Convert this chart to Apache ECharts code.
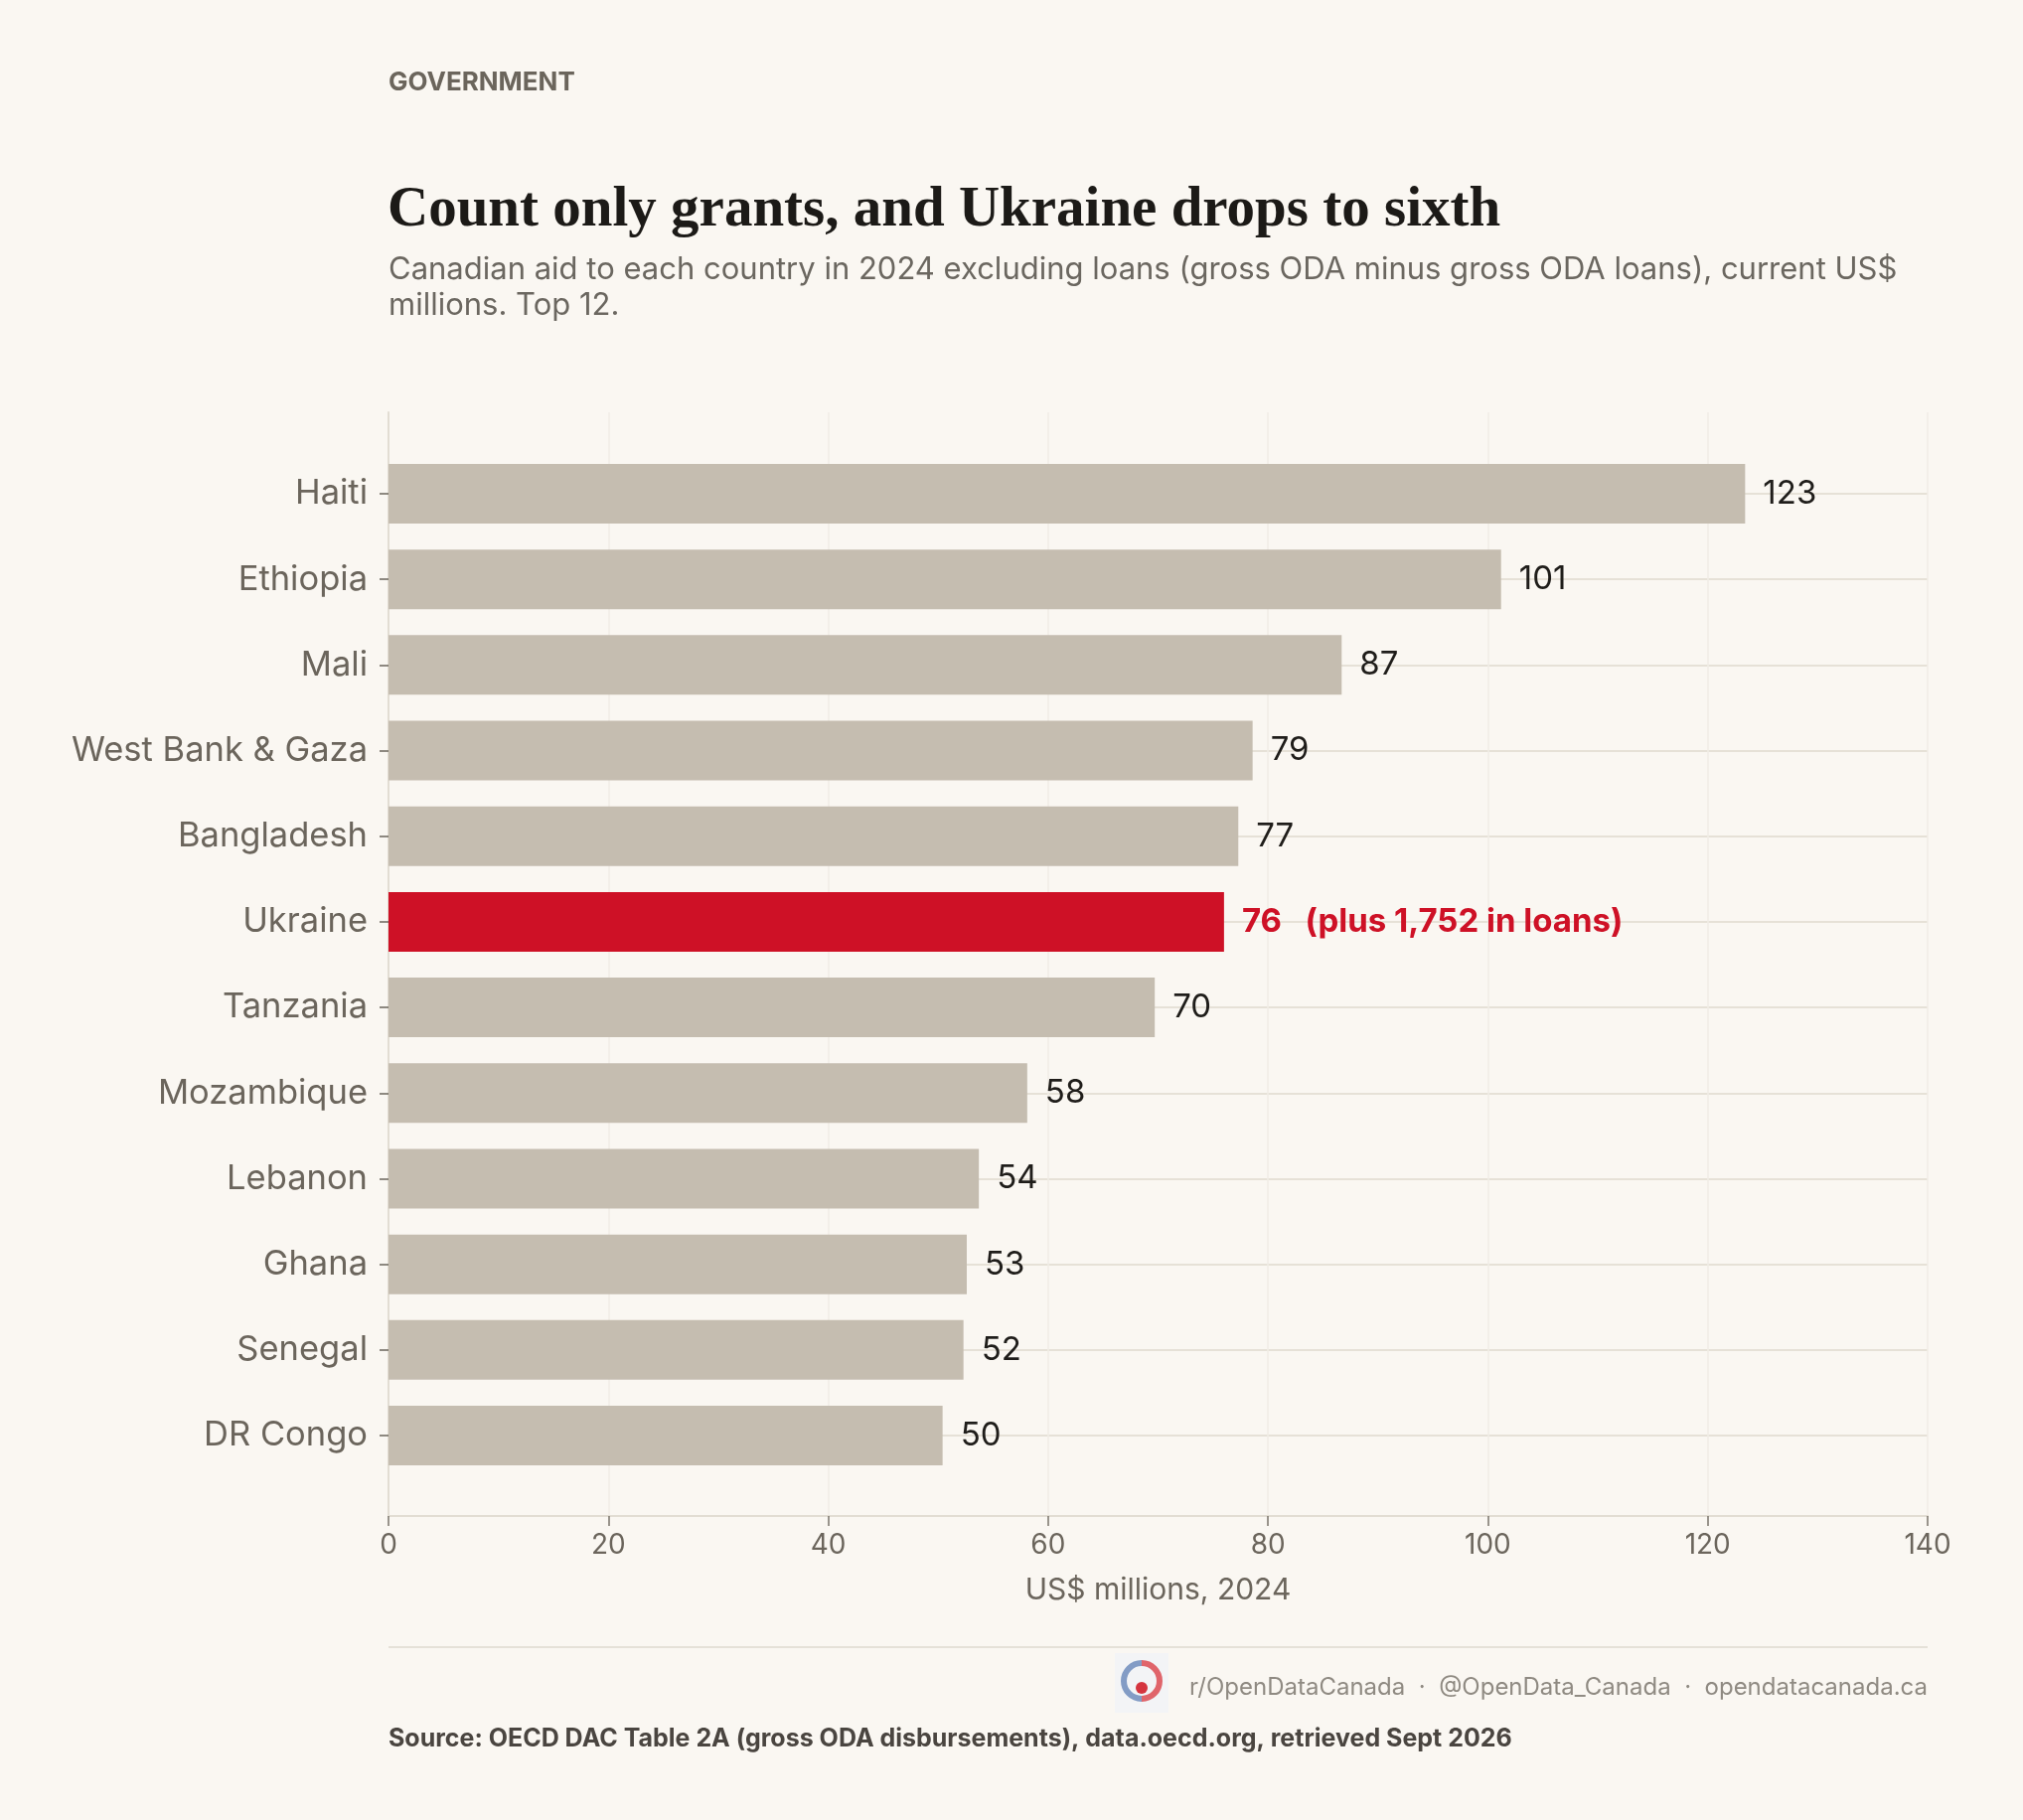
<!DOCTYPE html>
<html lang="en">
<head>
    <meta charset="UTF-8">
    <title>Canadian grant aid 2024</title>
    <script src="https://cdn.jsdelivr.net/npm/echarts@6/dist/echarts.min.js"></script>
    <style>
        html, body { margin: 0; padding: 0; background: #faf7f2; }
        #main { width: 2036px; height: 1832px; }
    </style>
</head>
<body>
<div id="main"></div>
<script type="text/javascript">
    // data (US$ millions, 2024, grants only)
    var countries = ['Haiti', 'Ethiopia', 'Mali', 'West Bank & Gaza', 'Bangladesh', 'Ukraine',
        'Tanzania', 'Mozambique', 'Lebanon', 'Ghana', 'Senegal', 'DR Congo'];
    var grants = [123.4, 101.2, 86.7, 78.6, 77.3, 76.0, 69.7, 58.1, 53.7, 52.6, 52.3, 50.4];
    var loanNotes = ['', '', '', '', '', '(plus 1,752 in loans)', '', '', '', '', '', ''];
    var highlight = 'Ukraine';
    var xMin = 0, xMax = 140, xStep = 20;

    var GREY = '#c5bdb0';
    var RED = '#ce1126';
    var TEXT = '#6b655c';
    var FONT = 'Inter, "Noto Sans", sans-serif';

    var chart = echarts.init(document.getElementById('main'));

    var barData = [];
    for (var i = 0; i < countries.length; i++) {
        var isHi = countries[i] === highlight;
        barData.push({
            value: grants[i],
            itemStyle: { color: isHi ? RED : GREY },
            label: isHi ? { color: RED, fontWeight: 'bold' } : {}
        });
    }

    chart.setOption({
        backgroundColor: '#faf7f2',
        textStyle: { fontFamily: FONT },
        title: [
            {
                text: 'GOVERNMENT', left: 391, top: 70, padding: 0,
                textStyle: { fontFamily: FONT, fontSize: 26, fontWeight: 'bold', color: '#6b655c' }
            },
            {
                text: 'Count only grants, and Ukraine drops to sixth', left: 390, top: 184, padding: 0,
                textStyle: { fontFamily: '"Liberation Serif", "DejaVu Serif", serif', fontSize: 57, fontWeight: 'bold', color: '#1c1a17' }
            },
            {
                text: 'Canadian aid to each country in 2024 excluding loans (gross ODA minus gross ODA loans), current US$\nmillions. Top 12.',
                left: 391, top: 254, padding: 0,
                textStyle: { fontFamily: FONT, fontSize: 31, fontWeight: 'normal', color: '#6b6760', lineHeight: 36 }
            },
            {
                text: 'r/OpenDataCanada  \u00b7  @OpenData_Canada  \u00b7  opendatacanada.ca',
                right: 96, top: 1687, padding: 0,
                textStyle: { fontFamily: FONT, fontSize: 24, fontWeight: 'normal', color: '#8f8a82' }
            },
            {
                text: 'Source: OECD DAC Table 2A (gross ODA disbursements), data.oecd.org, retrieved Sept 2026',
                left: 391, top: 1738, padding: 0,
                textStyle: { fontFamily: FONT, fontSize: 25, fontWeight: 'bold', color: '#4a4540' }
            }
        ],
        grid: [
            // bars: first and last category sit on the grid edges
            { left: 391, right: 96, top: 497, height: 948, containLabel: false },
            // frame: axis line, vertical grid lines, x labels
            { left: 391, right: 96, top: 415, height: 1111, containLabel: false }
        ],
        xAxis: [
            { gridIndex: 0, type: 'value', min: xMin, max: xMax, interval: xStep, show: false },
            {
                gridIndex: 1, type: 'value', min: xMin, max: xMax, interval: xStep,
                axisLine: { show: true, lineStyle: { color: '#e2ddd3', width: 2 } },
                axisTick: { show: true, length: 10, lineStyle: { color: '#7a746b', width: 1.5 } },
                axisLabel: { fontSize: 28, color: TEXT, margin: 16, fontFamily: FONT },
                splitLine: { show: true, lineStyle: { color: '#f1ede6', width: 1.5 } },
                name: 'US$ millions, 2024', nameLocation: 'middle', nameGap: 60,
                nameTextStyle: { fontSize: 30, color: TEXT, fontFamily: FONT }
            }
        ],
        yAxis: [
            {
                gridIndex: 0, type: 'category', data: countries, inverse: true, boundaryGap: false,
                axisLine: { show: false },
                axisTick: { show: true, length: 9, lineStyle: { color: TEXT, width: 1.5 } },
                axisLabel: { fontSize: 34.5, color: TEXT, margin: 21, fontFamily: FONT },
                splitLine: { show: true, lineStyle: { color: '#e6e1d7', width: 2 } }
            },
            {
                gridIndex: 1, type: 'value', min: 0, max: 1,
                axisLine: { show: true, lineStyle: { color: '#e2ddd3', width: 2 } },
                axisTick: { show: false }, axisLabel: { show: false }, splitLine: { show: false }
            }
        ],
        series: [{
            name: 'Grants',
            type: 'bar',
            xAxisIndex: 0,
            yAxisIndex: 0,
            barWidth: 60,
            clip: false,
            silent: true,
            data: barData,
            label: {
                show: true,
                position: 'right',
                distance: 18,
                fontSize: 33,
                fontFamily: FONT,
                color: '#1f1d1a',
                formatter: function (p) {
                    var s = String(Math.round(p.value));
                    var note = loanNotes[p.dataIndex];
                    return note ? s + '   ' + note : s;
                }
            }
        }],
        graphic: [
            // footer rule
            { type: 'line', shape: { x1: 391, y1: 1658, x2: 1940, y2: 1658 }, style: { stroke: '#e5e1d8', lineWidth: 2 } },
            // small logo
            { type: 'rect', shape: { x: 1122, y: 1664, width: 54, height: 60 }, style: { fill: '#f3f4f6' } },
            { type: 'arc', shape: { cx: 1149, cy: 1692, r: 18, startAngle: Math.PI * 0.5, endAngle: Math.PI * 1.5 }, style: { stroke: '#6f8cbc', lineWidth: 6, fill: null, opacity: 0.85 } },
            { type: 'arc', shape: { cx: 1149, cy: 1692, r: 18, startAngle: -Math.PI * 0.5, endAngle: Math.PI * 0.5 }, style: { stroke: '#dc4b52', lineWidth: 6, fill: null, opacity: 0.85 } },
            { type: 'circle', shape: { cx: 1149, cy: 1699, r: 6 }, style: { fill: '#d1202b', opacity: 0.9 } }
        ]
    });
</script>
</body>
</html>
